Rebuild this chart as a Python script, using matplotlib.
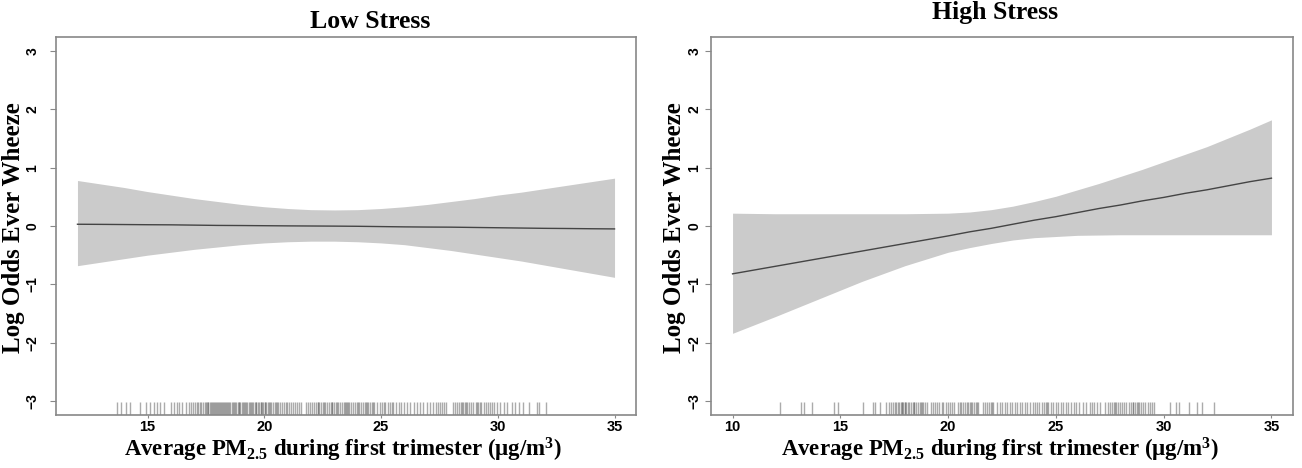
import matplotlib
matplotlib.use('Agg')
import matplotlib.pyplot as plt

plt.rcParams['mathtext.fontset'] = 'custom'
plt.rcParams['mathtext.rm'] = 'Liberation Serif'
plt.rcParams['mathtext.bf'] = 'Liberation Serif:bold'
plt.rcParams['mathtext.default'] = 'bf'

# ---- low stress panel ----
low_x = [12, 13, 14, 15, 16, 17, 18, 19, 20, 21, 22, 23, 24, 25, 26, 27, 28, 29, 30, 31, 32, 33, 34, 35]
low_fit = [0.03, 0.028, 0.025, 0.022, 0.02, 0.015, 0.01, 0.008, 0.005, 0.002, 0.0, -0.002,
           -0.005, -0.01, -0.015, -0.018, -0.02, -0.025, -0.03, -0.035, -0.04, -0.043, -0.047, -0.05]
low_upper = [0.78, 0.72, 0.66, 0.59, 0.53, 0.47, 0.42, 0.37, 0.33, 0.30, 0.28, 0.275,
             0.28, 0.30, 0.33, 0.37, 0.42, 0.47, 0.53, 0.58, 0.64, 0.70, 0.76, 0.82]
low_lower = [-0.68, -0.62, -0.56, -0.50, -0.45, -0.40, -0.36, -0.32, -0.29, -0.27, -0.26, -0.26,
             -0.27, -0.29, -0.32, -0.37, -0.42, -0.48, -0.54, -0.60, -0.67, -0.74, -0.81, -0.88]
low_rug = [13.71, 13.85, 14.06, 14.23, 14.66, 14.94, 15.09, 15.26, 15.40, 15.54, 15.72, 16.00,
           16.15, 16.26, 16.36, 16.47, 16.64, 16.76, 16.86, 16.93, 17.02, 17.10, 17.18, 17.25,
           17.31, 17.38, 17.44, 17.50, 17.55, 17.61, 17.66, 17.72, 17.77, 17.83, 17.88, 17.93,
           17.98, 18.04, 18.09, 18.15, 18.20, 18.26, 18.31, 18.37, 18.42, 18.48, 18.55, 18.61,
           18.68, 18.74, 18.80, 18.87, 18.93, 18.98, 19.04, 19.10, 19.16, 19.22, 19.28, 19.35,
           19.41, 19.47, 19.53, 19.60, 19.66, 19.72, 19.78, 19.84, 19.90, 19.95, 20.01, 20.08,
           20.15, 20.22, 20.30, 20.37, 20.45, 20.52, 20.60, 20.68, 20.75, 20.83, 20.91, 20.98,
           21.06, 21.14, 21.22, 21.31, 21.40, 21.48, 21.57, 21.80, 21.88, 21.96, 22.04, 22.12,
           22.20, 22.28, 22.36, 22.44, 22.52, 22.60, 22.68, 22.76, 22.84, 22.92, 23.00, 23.08,
           23.16, 23.24, 23.32, 23.40, 23.48, 23.56, 23.64, 23.72, 23.82, 23.90, 23.98, 24.06,
           24.14, 24.22, 24.30, 24.38, 24.46, 24.54, 24.62, 24.72, 24.84, 24.95, 25.06, 25.18,
           25.29, 25.40, 25.52, 25.63, 25.75, 25.86, 25.98, 26.10, 26.25, 26.40, 26.52, 26.68,
           26.80, 26.95, 27.08, 27.22, 27.35, 27.43, 27.52, 27.60, 27.70, 27.78, 28.10, 28.18,
           28.25, 28.34, 28.42, 28.50, 28.58, 28.66, 28.75, 28.85, 28.95, 29.05, 29.15, 29.22,
           29.30, 29.40, 29.50, 29.58, 29.65, 29.75, 29.85, 29.98, 30.10, 30.25, 30.41, 30.62,
           30.72, 30.90, 31.09, 31.33, 31.69, 31.76, 32.08,
           # extra clustered values in the darkest stretches
           17.58, 17.80, 18.01, 18.23, 18.45, 18.71, 18.90, 19.13, 19.38, 19.63, 19.87, 20.04,
           20.26, 20.56, 22.32, 22.56, 22.88, 23.12, 23.44, 23.60, 24.02, 24.34, 24.66, 25.12,
           25.46, 28.46, 28.70, 29.10]

# ---- high stress panel ----
high_x = [10, 12, 14, 16, 18, 20, 21, 22, 23, 24, 25, 26, 27, 28, 29, 30, 31, 32, 33, 34, 35]
high_fit = [-0.82, -0.69, -0.56, -0.43, -0.30, -0.17, -0.10, -0.04, 0.03, 0.10, 0.16, 0.23,
            0.30, 0.36, 0.43, 0.49, 0.56, 0.62, 0.69, 0.76, 0.82]
high_upper = [0.22, 0.21, 0.21, 0.21, 0.21, 0.22, 0.24, 0.28, 0.34, 0.42, 0.51, 0.62,
              0.73, 0.85, 0.97, 1.10, 1.23, 1.36, 1.51, 1.66, 1.82]
high_lower = [-1.84, -1.55, -1.25, -0.95, -0.68, -0.45, -0.37, -0.30, -0.24, -0.20, -0.18, -0.16,
              -0.155, -0.15, -0.15, -0.15, -0.15, -0.15, -0.15, -0.15, -0.15]
high_rug = [12.21, 13.18, 13.30, 13.69, 14.72, 14.88, 16.06, 16.50, 16.60, 16.84, 17.11, 17.27,
            17.35, 17.45, 17.52, 17.60, 17.66, 17.72, 17.80, 17.86, 17.92, 17.98, 18.05, 18.12,
            18.20, 18.28, 18.36, 18.44, 18.52, 18.60, 18.68, 18.76, 18.84, 18.92, 19.00, 19.22,
            19.30, 19.40, 19.50, 19.60, 19.70, 19.78, 19.88, 19.98, 20.08, 20.18, 20.26, 20.45,
            20.55, 20.62, 20.70, 20.78, 20.86, 20.94, 21.02, 21.10, 21.20, 21.30, 21.40, 21.60,
            21.70, 21.80, 21.90, 22.00, 22.10, 22.25, 22.40, 22.50, 22.62, 22.75, 22.85, 22.98,
            23.10, 23.20, 23.32, 23.45, 23.55, 23.68, 23.80, 23.92, 24.02, 24.12, 24.22, 24.35,
            24.45, 24.55, 24.65, 24.75, 24.88, 25.00, 25.12, 25.22, 25.35, 25.48, 25.58, 25.70,
            25.82, 25.95, 26.05, 26.25, 26.40, 26.60, 26.68, 26.78, 26.90, 27.05, 27.30, 27.40,
            27.50, 27.60, 27.70, 27.80, 27.88, 27.96, 28.05, 28.15, 28.25, 28.38, 28.48, 28.56,
            28.65, 28.75, 28.85, 28.95, 29.05, 29.15, 29.25, 29.35, 29.45, 29.54, 30.31, 30.57,
            30.70, 31.16, 31.55, 31.78, 32.32,
            17.88, 18.02, 18.40, 18.80, 21.05, 21.35, 22.05, 24.60, 27.75, 28.60, 28.80]

yticks = [-3, -2, -1, 0, 1, 2, 3]
low_xticks = [15, 20, 25, 30, 35]
high_xticks = [10, 15, 20, 25, 30, 35]

W, H = 1302, 468
fig = plt.figure(figsize=(W / 100, H / 100), dpi=100)
ax1 = fig.add_axes([56 / W, 53 / H, 580 / W, 378 / H])
ax2 = fig.add_axes([711 / W, 53 / H, 582 / W, 378 / H])

xlab = r'Average PM$_{2.5}$ during first trimester (μg/m$^{3}$)'


def panel(ax, x, fit, up, lo, rug, xticks, xlim, ypad):
    ax.fill_between(x, lo, up, color='#cbcbcb', lw=0)
    ax.plot(x, fit, color='#444444', lw=1)
    ax.vlines(rug, 0, 0.034, transform=ax.get_xaxis_transform(),
              color='#666666', alpha=0.55, lw=1.0)
    ax.set_xlim(*xlim)
    ax.set_ylim(-3.24, 3.24)
    ax.set_yticks(yticks)
    ax.set_xticks(xticks)
    for s in ax.spines.values():
        s.set_color('#888888')
        s.set_linewidth(1.2)
    ax.tick_params(axis='y', length=4, width=0.8, color='#888888', pad=ypad,
                   labelsize=10, labelrotation=90)
    ax.tick_params(axis='x', length=2, width=0.8, color='#888888', pad=1.5, labelsize=10.5)
    for lab in ax.get_yticklabels() + ax.get_xticklabels():
        lab.set_fontfamily('Liberation Sans')
        lab.set_fontweight('bold')
    for lab in ax.get_yticklabels():
        lab.set_va('center')


panel(ax1, low_x, low_fit, low_upper, low_lower, low_rug, low_xticks, (11.08, 35.92), 8)
panel(ax2, high_x, high_fit, high_upper, high_lower, high_rug, high_xticks, (9, 36), 3)

serif = dict(family='Liberation Serif', weight='bold', ha='center', va='center')
fig.text(370 / W, 1 - 22 / H, 'Low Stress', fontsize=18.5, **serif)
fig.text(995 / W, 1 - 13 / H, 'High Stress', fontsize=18.5, **serif)
fig.text(14 / W, 1 - 228 / H, 'Log Odds Ever Wheeze', fontsize=18, rotation=90, **serif)
fig.text(675 / W, 1 - 228 / H, 'Log Odds Ever Wheeze', fontsize=18, rotation=90, **serif)
fig.text(343 / W, 1 - 450 / H, xlab, fontsize=16.5, **serif)
fig.text(1000 / W, 1 - 450 / H, xlab, fontsize=16.5, **serif)

fig.savefig('out.png', dpi=100)
